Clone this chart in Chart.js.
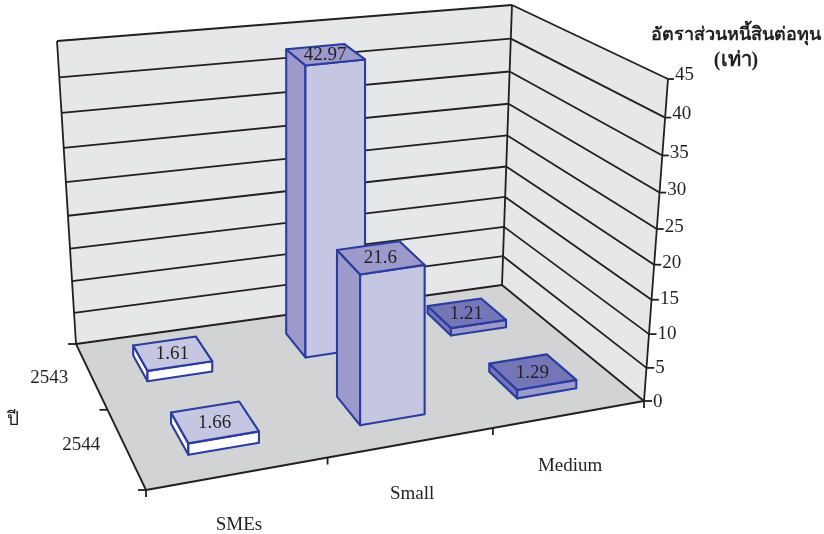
<!DOCTYPE html>
<html>
<head>
<meta charset="utf-8">
<style>
  html, body { margin: 0; padding: 0; background: #fff; }
  canvas { display: block; }
</style>
<script src="https://cdn.jsdelivr.net/npm/chart.js@4"></script>
</head>
<body>
<canvas id="debtChart" width="824" height="534"></canvas>
<script>
// values
const sizes = ['SMEs', 'Small', 'Medium'];
const years = ['2543', '2544'];
const ratio2543 = [1.61, 42.97, 1.21];
const ratio2544 = [1.66, 21.6, 1.29];
const valueMax = 45;
const valueStep = 5;
const valueTitle = ['อัตราส่วนหนี้สินต่อทุน', '(เท่า)'];
const yearTitle = 'ปี';

// box corners on the canvas: back left, back right, front right, front left
const floorQuad = [[76, 344], [502, 285], [644, 401], [146, 490]];
const topQuad = [[57, 41], [512, 5], [668, 79], [126, 145]];

const heightBend = 0.09;
const barFraction = 0.4;
const ink = '#231f20';
const barLine = '#2b3c9f';
const serif = '"Liberation Serif", serif';
const textFont = '19px ' + serif;

// face colours per category: top, front, side
const faces = [
    { top: '#c5c6e2', front: '#ffffff', side: '#ffffff' },
    { top: '#9c99cb', front: '#c5c6e2', side: '#9c99cb' },
    { top: '#7476b8', front: '#9c99cb', side: '#7476b8' }
];

// unit square to quad
function homography(quad) {
    const [[x0, y0], [x1, y1], [x2, y2], [x3, y3]] = quad;
    const dx1 = x1 - x2, dx2 = x3 - x2, sx = x0 - x1 + x2 - x3;
    const dy1 = y1 - y2, dy2 = y3 - y2, sy = y0 - y1 + y2 - y3;
    const det = dx1 * dy2 - dx2 * dy1;
    const g = (sx * dy2 - dx2 * sy) / det;
    const h = (dx1 * sy - sx * dy1) / det;
    const a = x1 - x0 + g * x1, b = x3 - x0 + h * x3;
    const d = y1 - y0 + g * y1, e = y3 - y0 + h * y3;
    return (u, w) => {
        const q = g * u + h * w + 1;
        return [(a * u + b * w + x0) / q, (d * u + e * w + y0) / q];
    };
}

const onFloor = homography(floorQuad);
const onTop = homography(topQuad);

// blends floor and ceiling, heights bunch up a little towards the floor
function project(u, w, t) {
    const s = t / (1 + heightBend * (1 - t));
    const f = onFloor(u, w), c = onTop(u, w);
    return [f[0] + (c[0] - f[0]) * s, f[1] + (c[1] - f[1]) * s];
}

// bar edges stay upright, so only y follows the height
function projectBar(u, w, t) {
    return [onFloor(u, w)[0], project(u, w, t)[1]];
}

function poly(ctx, pts, fill, stroke, width) {
    ctx.beginPath();
    pts.forEach((p, i) => (i ? ctx.lineTo(p[0], p[1]) : ctx.moveTo(p[0], p[1])));
    ctx.closePath();
    if (fill) {
        ctx.fillStyle = fill;
        ctx.fill();
    }
    if (stroke) {
        ctx.strokeStyle = stroke;
        ctx.lineWidth = width;
        ctx.stroke();
    }
}

function line(ctx, p, q) {
    ctx.beginPath();
    ctx.moveTo(p[0], p[1]);
    ctx.lineTo(q[0], q[1]);
    ctx.strokeStyle = ink;
    ctx.lineWidth = 1.8;
    ctx.stroke();
}

function label(ctx, text, x, y, align, font) {
    ctx.font = font || textFont;
    ctx.fillStyle = ink;
    ctx.textAlign = align || 'center';
    ctx.textBaseline = 'middle';
    ctx.fillText(text, x, y);
}

// turns a scale value into a 0..1 position along that scale
const along = (scale, v) => scale.isHorizontal()
    ? (scale.getPixelForValue(v) - scale.left) / scale.width
    : (scale.bottom - scale.getPixelForValue(v)) / scale.height;

const box3d = {
    id: 'box3d',
    beforeDatasetsDraw(chart) {
        const ctx = chart.ctx;
        const { x, y, z } = chart.scales;
        ctx.save();
        ctx.lineJoin = 'round';

        // walls and floor
        poly(ctx, [project(0, 0, 0), project(0, 0, 1), project(1, 0, 1), project(1, 0, 0)], '#e6e7e9');
        poly(ctx, [project(1, 0, 0), project(1, 0, 1), project(1, 1, 1), project(1, 1, 0)], '#e6e7e9');
        poly(ctx, [project(0, 0, 0), project(1, 0, 0), project(1, 1, 0), project(0, 1, 0)], '#d1d3d4');

        // gridlines and value axis, ticks get shorter towards the top
        y.ticks.forEach(tick => {
            const t = along(y, tick.value);
            const b = project(0, 0, t), c = project(1, 0, t), f = project(1, 1, t);
            const len = 8 - 2 * t;
            line(ctx, b, c);
            line(ctx, c, f);
            line(ctx, f, [f[0] + len, f[1]]);
            label(ctx, tick.label, f[0] + len + 1, f[1] + 1 - 5 * t, 'left');
        });
        line(ctx, project(0, 0, 0), project(0, 0, 1));
        line(ctx, project(1, 0, 0), project(1, 0, 1));
        line(ctx, project(1, 1, 0), project(1, 1, 1));
        line(ctx, project(0, 1, 0), project(1, 1, 0));
        line(ctx, project(0, 0, 0), project(0, 1, 0));

        // category ticks along the front edge
        for (let i = 0; i <= sizes.length; i++) {
            const p = project(along(x, i - 0.5), 1, 0);
            line(ctx, p, [p[0], p[1] + 7]);
        }
        // year ticks along the left edge
        for (let i = 0; i <= years.length; i++) {
            const p = project(0, along(z, i - 0.5), 0);
            line(ctx, p, [p[0] - 8, p[1]]);
        }
        sizes.forEach((name, i) => {
            const p = project(along(x, i), 1, 0);
            label(ctx, name, p[0], p[1] + 52);
        });
        years.forEach((name, i) => {
            // pulled a little towards the middle of the edge
            const p = project(0, along(z, i * 0.92 + 0.04), 0);
            label(ctx, name, p[0] - 43, p[1]);
        });
        label(ctx, yearTitle, 13, 420);
        label(ctx, valueTitle[0], 736, 35, 'center', 'bold 18px ' + serif);
        label(ctx, valueTitle[1], 736, 61, 'center', 'bold 20px ' + serif);

        // bars, back row first
        const half = barFraction / 2;
        chart.data.datasets.forEach((ds, row) => {
            ds.data.forEach((value, col) => {
                const u0 = along(x, col - half), u1 = along(x, col + half);
                const w0 = along(z, row - half), w1 = along(z, row + half);
                const t = along(y, value);
                const c = faces[col];
                poly(ctx, [projectBar(u0, w0, 0), projectBar(u0, w1, 0), projectBar(u0, w1, t), projectBar(u0, w0, t)], c.side, barLine, 2.1);
                poly(ctx, [projectBar(u0, w1, 0), projectBar(u1, w1, 0), projectBar(u1, w1, t), projectBar(u0, w1, t)], c.front, barLine, 2.1);
                poly(ctx, [projectBar(u0, w0, t), projectBar(u1, w0, t), projectBar(u1, w1, t), projectBar(u0, w1, t)], c.top, barLine, 2.1);
                const m = projectBar((u0 + u1) / 2, (w0 + w1) / 2, t);
                label(ctx, String(value), m[0], m[1] + 1);
            });
        });
        ctx.restore();
    }
};

new Chart(document.getElementById('debtChart'), {
    type: 'bar',
    data: {
        labels: sizes,
        datasets: [
            { label: years[0], data: ratio2543, backgroundColor: 'transparent' },
            { label: years[1], data: ratio2544, backgroundColor: 'transparent' }
        ]
    },
    options: {
        responsive: false,
        animation: false,
        layout: { padding: 0 },
        plugins: { legend: { display: false }, tooltip: { enabled: false } },
        scales: {
            x: { display: false, offset: true },
            y: { display: false, min: 0, max: valueMax, ticks: { stepSize: valueStep } },
            z: { type: 'category', axis: 'x', position: 'bottom', display: false, offset: true, labels: years }
        }
    },
    plugins: [box3d]
});
</script>
</body>
</html>
